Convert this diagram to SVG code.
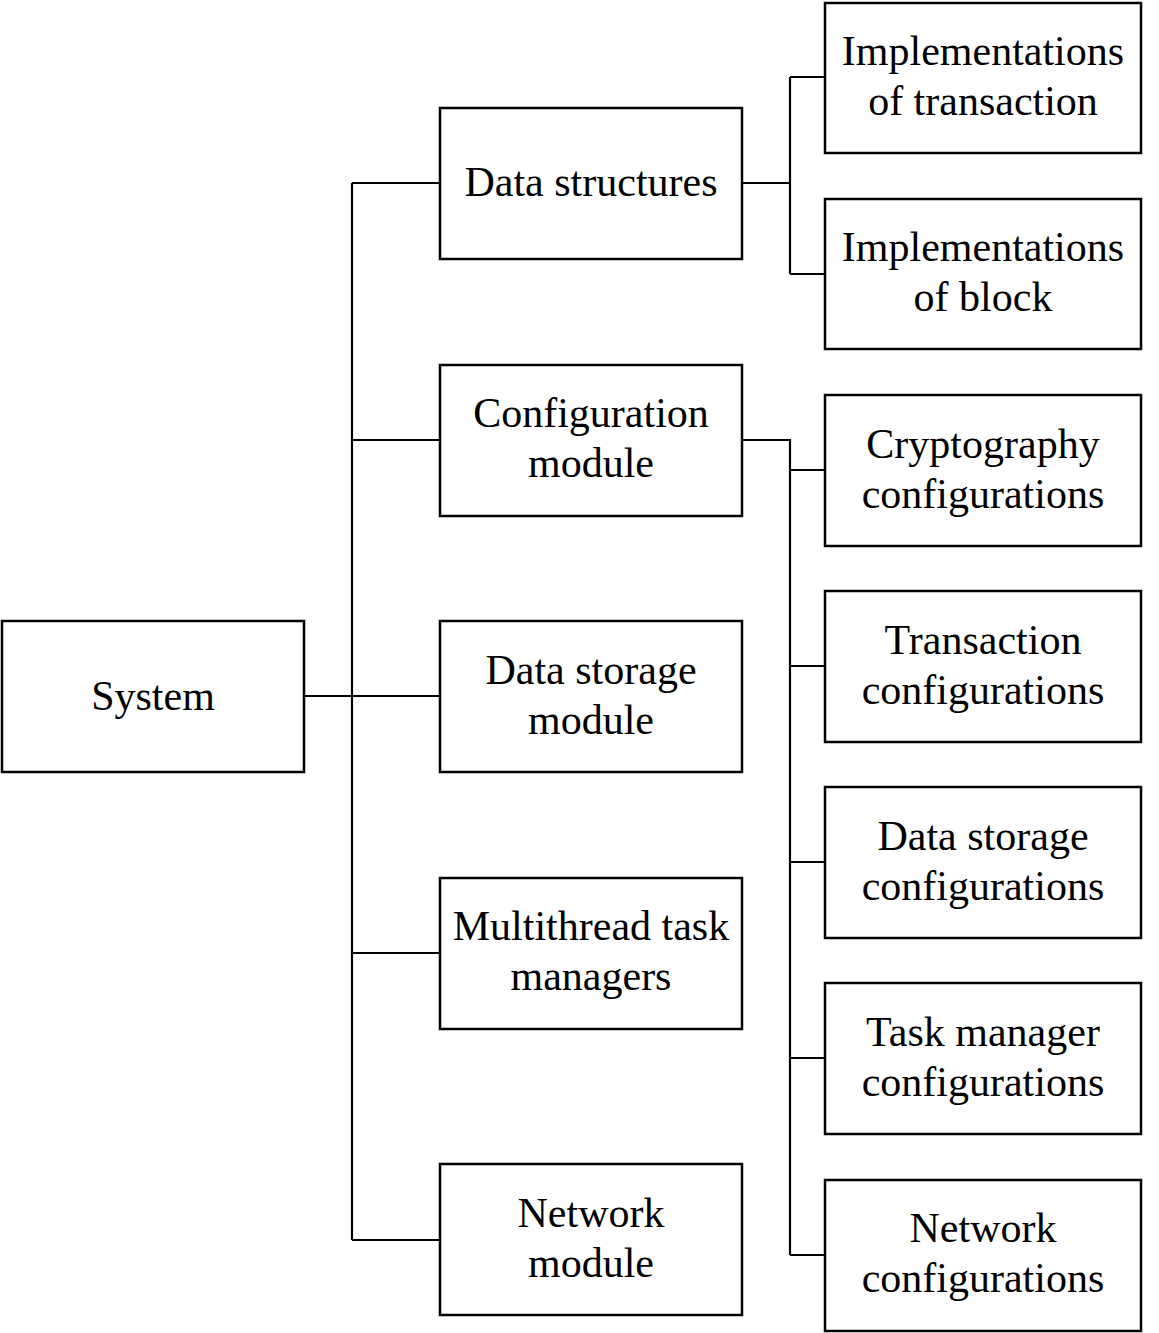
<svg xmlns="http://www.w3.org/2000/svg" width="1159" height="1333" viewBox="0 0 1159 1333">
<style>
rect{fill:#fff;stroke:#000;stroke-width:2.5}
.c{fill:none;stroke:#000;stroke-width:2.2}
text{font-family:"Liberation Serif","Times New Roman",serif;font-size:42px;fill:#000;text-anchor:middle}
</style>
<rect x="0" y="0" width="1159" height="1333" style="stroke:none"/>
<g id="connectors" class="c">
<path d="M304 696H440M352 183V1240M352 183H440M352 440H440M352 953H440M352 1240H440"/>
<path d="M742 183H790M790 77V274M790 77H825M790 274H825"/>
<path d="M742 440H790V1255M790 470H825M790 666H825M790 862H825M790 1058H825M790 1255H825"/>
</g>
<g id="system"><rect x="2" y="621" width="302" height="151"/><text x="153" y="710">System</text></g>
<g id="data-structures"><rect x="440" y="108" width="302" height="151"/><text x="591" y="196">Data structures</text></g>
<g id="configuration-module"><rect x="440" y="365" width="302" height="151"/><text x="591" y="427">Configuration</text><text x="591" y="477">module</text></g>
<g id="data-storage-module"><rect x="440" y="621" width="302" height="151"/><text x="591" y="684">Data storage</text><text x="591" y="734">module</text></g>
<g id="multithread-task-managers"><rect x="440" y="878" width="302" height="151"/><text x="591" y="940">Multithread task</text><text x="591" y="990">managers</text></g>
<g id="network-module"><rect x="440" y="1164" width="302" height="151"/><text x="591" y="1227">Network</text><text x="591" y="1277">module</text></g>
<g id="impl-transaction"><rect x="825" y="3" width="316" height="150"/><text x="983" y="65">Implementations</text><text x="983" y="115">of transaction</text></g>
<g id="impl-block"><rect x="825" y="199" width="316" height="150"/><text x="983" y="261">Implementations</text><text x="983" y="311">of block</text></g>
<g id="crypto-config"><rect x="825" y="395" width="316" height="151"/><text x="983" y="458">Cryptography</text><text x="983" y="508">configurations</text></g>
<g id="transaction-config"><rect x="825" y="591" width="316" height="151"/><text x="983" y="654">Transaction</text><text x="983" y="704">configurations</text></g>
<g id="data-storage-config"><rect x="825" y="787" width="316" height="151"/><text x="983" y="850">Data storage</text><text x="983" y="900">configurations</text></g>
<g id="task-manager-config"><rect x="825" y="983" width="316" height="151"/><text x="983" y="1046">Task manager</text><text x="983" y="1096">configurations</text></g>
<g id="network-config"><rect x="825" y="1180" width="316" height="151"/><text x="983" y="1242">Network</text><text x="983" y="1292">configurations</text></g>
</svg>
